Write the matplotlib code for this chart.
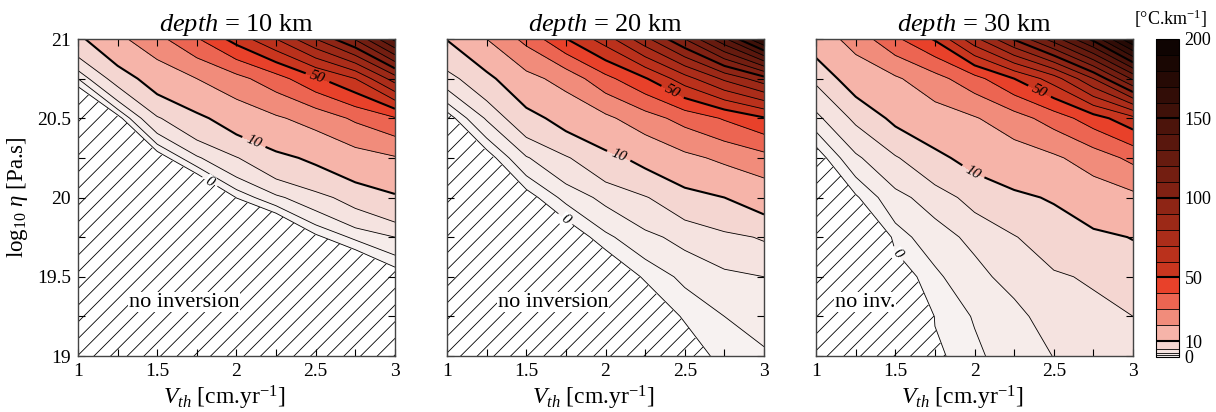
import numpy as np
import matplotlib.pyplot as plt
from matplotlib.ticker import MultipleLocator, FuncFormatter

plt.rcParams['font.family'] = ['Liberation Serif', 'DejaVu Serif']
plt.rcParams['mathtext.fontset'] = 'custom'
plt.rcParams['mathtext.rm'] = 'Liberation Serif'
plt.rcParams['mathtext.it'] = 'Liberation Serif:italic'
plt.rcParams['mathtext.bf'] = 'Liberation Serif:bold'
plt.rcParams['hatch.color'] = 'black'
plt.rcParams['hatch.linewidth'] = 0.6

# grid of the models
v_th = [1.0, 1.25, 1.5, 1.75, 2.0, 2.25, 2.5, 2.75, 3.0]
log_eta = [19.0, 19.25, 19.5, 19.75, 20.0, 20.25, 20.5, 20.75, 21.0]

# thermal gradient [C/km], rows = log_eta (bottom -> top), cols = v_th
grad_10km = [
    [-37, -32, -27, -23, -19, -15, -12, -10, -7],
    [-32, -27, -22, -18, -14, -11, -8, -6, -4],
    [-27, -22, -17, -13, -9, -7, -4.5, -2.8, -0.8],
    [-22, -17, -12, -8, -4, -3.2, -0.3, 1.3, 2.5],
    [-16, -11, -6, -3.3, 0.05, 2.1, 3.9, 6.4, 9.1],
    [-10, -5, -0.9, 2.2, 4.8, 8.3, 11.3, 15.8, 19.2],
    [-4, -0.6, 4.6, 8.4, 13.6, 18.7, 23.8, 31.7, 39],
    [1.0, 6.4, 13.5, 20, 26.9, 35.8, 48.3, 60, 85],
    [8.3, 17.5, 27, 39, 54, 70, 90, 111, 143],
]
grad_20km = [
    [-32, -26, -20, -14, -8, -4, -1.1, 0.6, 0.8],
    [-28, -22, -16, -10, -4.5, -1.5, 0.2, 1.0, 1.65],
    [-24, -18, -12, -6.5, -1.5, 0.2, 1.3, 2.1, 2.5],
    [-18, -12, -6, -1.1, 0.7, 2.0, 3.1, 4.2, 5.3],
    [-12, -5.5, -0.6, 1.4, 3.0, 4.75, 7.5, 10, 13.5],
    [-6, -0.7, 2.3, 4.6, 8.1, 11.9, 17.6, 22, 26.7],
    [-0.7, 2.7, 7.5, 12.6, 17.9, 25.7, 33.6, 41, 49],
    [3.7, 7.9, 16.9, 23.6, 37, 49, 65.7, 82, 96],
    [10.2, 20, 32.8, 49.6, 65, 87, 110, 138, 172],
]
grad_30km = [
    [-25, -19, -11, -0.3, 0.77, 1.6, 2.54, 3.4, 4.3],
    [-20, -14, -6, 0.1, 1.1, 1.9, 3.5, 4.2, 5.0],
    [-15, -9, -0.9, 0.75, 1.9, 3.25, 4.6, 5.4, 7.6],
    [-10, -4.5, 0.5, 1.7, 3.0, 4.8, 7.0, 8.8, 10.2],
    [-5, -0.18, 1.9, 3.4, 6.2, 8.8, 10.6, 14.5, 17.6],
    [-0.74, 2.1, 4.6, 8.4, 12.4, 15.1, 18.4, 24.7, 32.5],
    [1.9, 5.6, 11.4, 15.4, 19.2, 25.7, 34.5, 45.5, 57],
    [5.6, 13.7, 18.6, 26.4, 36.4, 50, 65, 90, 122],
    [14, 24, 38, 51, 77, 101, 125, 153, 190],
]
grids = [grad_10km, grad_20km, grad_30km]
depths = [10, 20, 30]

levels = [0, 1, 2.5, 5, 10, 20, 30, 40, 50, 60, 70, 80, 90, 100,
          110, 120, 130, 140, 150, 160, 170, 180, 190, 200]
fill_colors = ['#f7f2f1', '#f6ecea', '#f5e3e0', '#f4d6d1', '#f6b4a9',
               '#f18c7b', '#ec6552', '#e8412a', '#c9361f', '#ba311c',
               '#ab2d1a', '#9c2917', '#8e2515', '#802113', '#731e11',
               '#661b0f', '#59170d', '#4c140b', '#3f1109', '#320d07',
               '#260a05', '#1a0703', '#0f0402']
bold_levels = [10, 50, 100, 150]
label_levels = [0, 10, 50]
label_spots = [
    [(1.82, 20.08), (2.11, 20.35), (2.51, 20.75)],
    [(1.76, 19.88), (2.09, 20.28), (2.43, 20.68)],
    [(1.51, 19.64), (1.99, 20.16), (2.40, 20.65)],
]
region_text = ['no inversion', 'no inversion', 'no inv.']
region_spot = [(1.67, 19.34), (1.67, 19.34), (1.31, 19.34)]
cbar_ticks = [0, 10, 50, 100, 150, 200]

fig = plt.figure(figsize=(12.16, 4.12), dpi=100)
lefts = [0.0641, 0.3676, 0.6711]
fmt = FuncFormatter(lambda v, p: '%g' % v)
line_levels = [l for l in levels if l not in label_levels]
lw = [1.5 if l in bold_levels else 0.6 for l in line_levels]
lw_lab = [1.5 if l in bold_levels else 0.6 for l in label_levels]

for i in range(3):
    ax = fig.add_axes([lefts[i], 0.1359, 0.2607, 0.7694])
    Z = np.array(grids[i], dtype=float)
    ax.contourf(v_th, log_eta, Z, levels=[Z.min() - 1, 0],
                colors=['white'], hatches=['//'])
    cf = ax.contourf(v_th, log_eta, Z, levels=levels, colors=fill_colors)
    cl = ax.contour(v_th, log_eta, Z, levels=line_levels, colors='k',
                    linewidths=lw)
    cl_lab = ax.contour(v_th, log_eta, Z, levels=label_levels, colors='k',
                        linewidths=lw_lab)
    labs = ax.clabel(cl_lab, manual=label_spots[i], inline=True,
                     fmt='%d', fontsize=11)
    for t in labs:
        t.set_fontstyle('italic')
        if t.get_text() == '0':
            t.set_bbox(dict(fc='white', ec='none', pad=0.3))
    ax.text(region_spot[i][0], region_spot[i][1], region_text[i], fontsize=16,
            ha='center', va='center',
            bbox=dict(fc='white', ec='none', pad=0.5))

    ax.set_xlim(1, 3)
    ax.set_ylim(19, 21)
    ax.xaxis.set_major_locator(MultipleLocator(0.5))
    ax.xaxis.set_minor_locator(MultipleLocator(0.25))
    ax.yaxis.set_major_locator(MultipleLocator(0.5))
    ax.yaxis.set_minor_locator(MultipleLocator(0.25))
    ax.xaxis.set_major_formatter(fmt)
    ax.yaxis.set_major_formatter(fmt)
    ax.tick_params(which='both', direction='in', top=True, right=True,
                   length=5, width=0.8, labelsize=14, pad=5)
    for s in ax.spines.values():
        s.set_linewidth(1.0)
        s.set_color('#444444')
    ax.set_title(r'$depth$ = %d km' % depths[i], fontsize=19, pad=6)
    ax.set_xlabel(r'$V_{th}$ [cm.yr$^{-1}$]', fontsize=17, labelpad=3, x=0.46)
    if i == 0:
        ax.set_ylabel(r'log$_{10}$ $\eta$ [Pa.s]', fontsize=16.5, labelpad=5)
    else:
        ax.set_yticklabels([])

cax = fig.add_axes([0.9507, 0.1335, 0.0189, 0.772])
cb = fig.colorbar(cf, cax=cax, spacing='proportional', ticks=cbar_ticks)
cb.add_lines(cl)
cb.add_lines(cl_lab, erase=False)
cb.outline.set_linewidth(0.8)
cax.tick_params(length=0, labelsize=13, pad=4)
fig.text(0.993, 0.955, r'[°C.km$^{-1}$]', fontsize=13, ha='right', va='center')

fig.savefig('out.png', dpi=100)
